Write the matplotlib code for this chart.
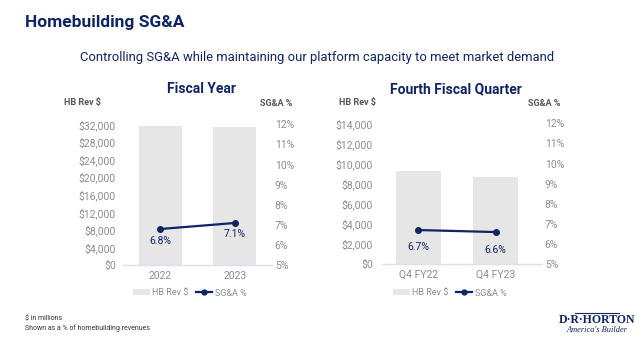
import matplotlib
matplotlib.use("Agg")
import matplotlib.pyplot as plt
from matplotlib.lines import Line2D
from matplotlib.patches import Patch

plt.rcParams['font.family'] = ['Roboto', 'DejaVu Sans']

# Data
fy_categories = ["2022", "2023"]
fy_rev = [31700, 31450]
fy_sga = [6.8, 7.1]

q_categories = ["Q4 FY22", "Q4 FY23"]
q_rev = [9300, 8700]
q_sga = [6.7, 6.6]

fy_rev_ticks = [0, 4000, 8000, 12000, 16000, 20000, 24000, 28000, 32000]
q_rev_ticks = [0, 2000, 4000, 6000, 8000, 10000, 12000, 14000]
pct_ticks = [5, 6, 7, 8, 9, 10, 11, 12]

NAVY = "#0f2463"
GRAY_TXT = "#8c8c8c"
BAR = "#e6e6e6"
BASE = "#d6e2f3"

fig = plt.figure(figsize=(6.4, 3.44), dpi=100)
fig.patch.set_facecolor("white")

def panel(rect, cats, rev, sga, rev_ticks, xlim, label_offsets, ypad):
    ax = fig.add_axes(rect)
    x = list(range(len(cats)))
    ax.bar(x, rev, width=0.58, color=BAR, zorder=1)
    ax.set_ylim(rev_ticks[0], rev_ticks[-1])
    ax.set_yticks(rev_ticks)
    ax.set_yticklabels([f"${v:,}" for v in rev_ticks])
    ax.set_xlim(*xlim)
    ax.set_xticks(x)
    ax.set_xticklabels(cats)
    for s in ["top", "right", "left"]:
        ax.spines[s].set_visible(False)
    ax.spines["bottom"].set_color(BASE)
    ax.spines["bottom"].set_linewidth(1.0)
    ax.tick_params(axis="both", length=0, labelsize=7.5, colors=GRAY_TXT)
    ax.tick_params(axis="y", pad=ypad)
    ax.tick_params(axis="x", pad=4)

    ax2 = ax.twinx()
    ax2.plot(x, sga, color=NAVY, lw=1.6, marker="o", ms=4, zorder=3)
    ax2.set_ylim(pct_ticks[0], pct_ticks[-1])
    ax2.set_yticks(pct_ticks)
    ax2.set_yticklabels([f"{v}%" for v in pct_ticks])
    for s in ["top", "right", "left", "bottom"]:
        ax2.spines[s].set_visible(False)
    ax2.tick_params(axis="y", length=0, labelsize=7.5, colors=GRAY_TXT, pad=2)
    for xi, v, off in zip(x, sga, label_offsets):
        ax2.annotate(f"{v}%", (xi, v), xytext=(0, off), textcoords="offset points",
                     ha="center", va="top", fontsize=7.5, color=NAVY)
    return ax, ax2

ax_l, _ = panel([0.192, 0.2288, 0.233, 0.41], fy_categories, fy_rev, fy_sga,
                fy_rev_ticks, (-0.5, 1.5), (-5, -4.5), 5)
ax_r, _ = panel([0.597, 0.2317, 0.25, 0.41], q_categories, q_rev, q_sga,
                q_rev_ticks, (-0.47, 1.6), (-8.5, -9), 6.5)

def px(xp, yp):
    return xp / 640, 1 - yp / 344

# Titles
fig.text(*px(25, 23), "Homebuilding SG&A", fontsize=12.5, fontweight="bold",
         color=NAVY, va="center", ha="left")
fig.text(*px(317, 58), "Controlling SG&A while maintaining our platform capacity to meet market demand",
         fontsize=9.4, color=NAVY, va="center", ha="center")
fig.text(*px(201, 89), "Fiscal Year", fontsize=10, fontweight="bold", color=NAVY,
         va="center", ha="center")
fig.text(*px(456, 89), "Fourth Fiscal Quarter", fontsize=10, fontweight="bold", color=NAVY,
         va="center", ha="center")

AXTXT = "#555555"
fig.text(*px(64, 103), "HB Rev $", fontsize=6.5, fontweight="bold", color=AXTXT, va="center")
fig.text(*px(292, 103), "SG&A %", fontsize=6.5, fontweight="bold", color=AXTXT, va="center", ha="right")
fig.text(*px(339, 103), "HB Rev $", fontsize=6.5, fontweight="bold", color=AXTXT, va="center")
fig.text(*px(560, 103), "SG&A %", fontsize=6.5, fontweight="bold", color=AXTXT, va="center", ha="right")

# Legends
handles = [Patch(facecolor=BAR, edgecolor="none", label="HB Rev $"),
           Line2D([0], [0], color=NAVY, lw=1.6, marker="o", ms=3.5, label="SG&A %")]
for cx in (190, 450):
    fig.legend(handles=handles, loc="center", bbox_to_anchor=px(cx, 293), ncol=2,
               frameon=False, fontsize=6.5, labelcolor=GRAY_TXT, handlelength=1.8,
               handleheight=0.6, handletextpad=0.3, columnspacing=0.8)

# Footnotes
fig.text(*px(25, 319), "$ in millions", fontsize=5, color="#333333", va="center")
fig.text(*px(25, 328), "Shown as a % of homebuilding revenues", fontsize=5, color="#333333", va="center")

# Logo
fig.text(*px(597, 320), "D·R·HORTON", fontsize=8.5, fontweight="bold", color=NAVY,
         va="center", ha="center", family=["Liberation Serif", "DejaVu Serif"])
fig.add_artist(Line2D([px(575, 0)[0], px(619, 0)[0]], [px(0, 313)[1]] * 2, color=NAVY, lw=0.8))
fig.text(*px(597, 330), "America's Builder", fontsize=6, style="italic", color=NAVY,
         va="center", ha="center", family=["Liberation Serif", "DejaVu Serif"])

fig.savefig("out.png", dpi=100, facecolor="white")
